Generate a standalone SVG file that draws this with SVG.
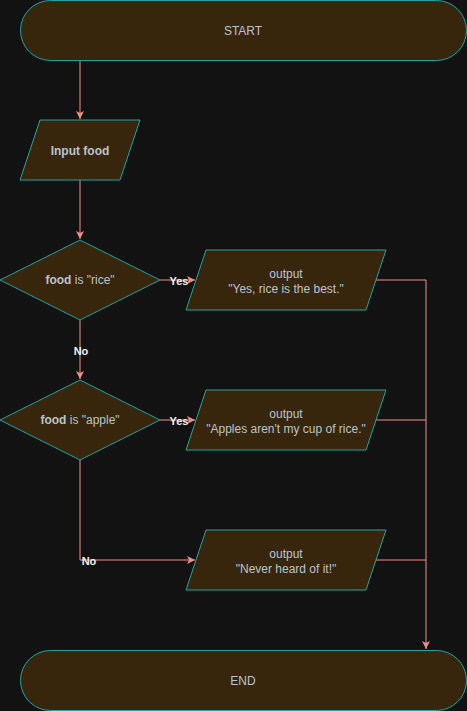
<svg xmlns="http://www.w3.org/2000/svg" width="467" height="711" viewBox="0 0 467 711">
<style>
.bg{fill:#121212}
.n{fill:#38260c;stroke:#1fa3a3;stroke-width:1}
.t{font-family:"Liberation Sans",Arial,sans-serif;font-size:12px;fill:#b8c4cc;text-anchor:middle}
.b{font-weight:bold}
.c{fill:none;stroke:#f08f8a;stroke-width:1}
.l{font-family:"Liberation Sans",Arial,sans-serif;font-size:11px;fill:#f0f0f0;text-anchor:middle;font-weight:bold}
</style>
<defs>
<marker id="ah" markerWidth="10" markerHeight="10" refX="9" refY="5" orient="auto" markerUnits="userSpaceOnUse">
<path d="M1,1 L9,5 L1,9 L3,5 Z" fill="#f08f8a"/>
</marker>
</defs>
<rect class="bg" x="0" y="0" width="467" height="711"/>
<g id="connectors">
<path class="c" d="M80,60 V119" marker-end="url(#ah)"/>
<path class="c" d="M80,180 V239" marker-end="url(#ah)"/>
<path class="c" d="M160,280 H195" marker-end="url(#ah)"/>
<path class="c" d="M80,320 V379" marker-end="url(#ah)"/>
<path class="c" d="M160,420 H195" marker-end="url(#ah)"/>
<path class="c" d="M80,460 V560 H195" marker-end="url(#ah)"/>
<path class="c" d="M376,280 H426 V649" marker-end="url(#ah)"/>
<path class="c" d="M376,420 H426"/>
<path class="c" d="M376,560 H426"/>
<text class="l" x="179" y="285">Yes</text>
<text class="l" x="81" y="355">No</text>
<text class="l" x="179" y="425">Yes</text>
<text class="l" x="89" y="565">No</text>
</g>
<g id="start">
<rect class="n" x="20.5" y="0.5" width="446" height="60" rx="30"/>
<text class="t" x="243" y="35">START</text>
</g>
<g id="input">
<path class="n" d="M40,120 H140 L120,180 H20 Z"/>
<text class="t b" x="80" y="155">Input food</text>
</g>
<g id="dec1">
<path class="n" d="M80,240 L160,280 L80,320 L0,280 Z"/>
<text class="t" x="80" y="284"><tspan class="b">food</tspan> is "rice"</text>
</g>
<g id="out1">
<path class="n" d="M206,250 H386 L366,310 H186 Z"/>
<text class="t" x="286" y="278">output</text>
<text class="t" x="286" y="293">"Yes, rice is the best."</text>
</g>
<g id="dec2">
<path class="n" d="M80,380 L160,420 L80,460 L0,420 Z"/>
<text class="t" x="80" y="424"><tspan class="b">food</tspan> is "apple"</text>
</g>
<g id="out2">
<path class="n" d="M206,390 H386 L366,450 H186 Z"/>
<text class="t" x="286" y="418">output</text>
<text class="t" x="286" y="433">"Apples aren't my cup of rice."</text>
</g>
<g id="out3">
<path class="n" d="M206,530 H386 L366,590 H186 Z"/>
<text class="t" x="286" y="558">output</text>
<text class="t" x="286" y="573">"Never heard of it!"</text>
</g>
<g id="end">
<rect class="n" x="20.5" y="650.5" width="446" height="60" rx="30"/>
<text class="t" x="243" y="685">END</text>
</g>
</svg>
